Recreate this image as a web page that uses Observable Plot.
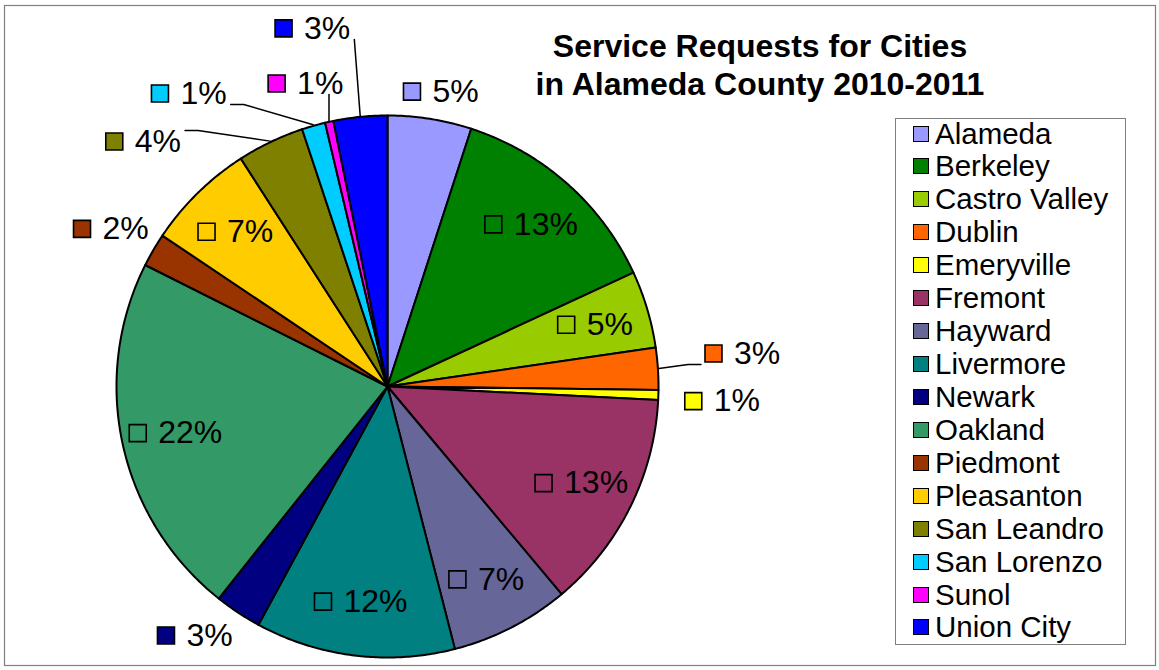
<!DOCTYPE html>
<html>
<head>
<meta charset="utf-8">
<script src="https://cdn.jsdelivr.net/npm/d3@7"></script>
<script src="https://cdn.jsdelivr.net/npm/@observablehq/plot@0.6"></script>
<style>
  body { margin: 0; background: #fff; }
  #wrap { position: relative; width: 1159px; height: 670px; font-family: "Liberation Sans", Arial, sans-serif; color: #000; }
  #chart { position: absolute; left: 0; top: 0; }
  #title { position: absolute; left: 460px; width: 600px; top: 27px; text-align: center; font-weight: bold; font-size: 32px; line-height: 38px; white-space: nowrap; }
  #legend { position: absolute; left: 895px; top: 118px; width: 231px; height: 527px; border: 1.5px solid #7f7f7f; box-sizing: border-box; }
  .row { position: absolute; left: 0; height: 32px; display: flex; align-items: center; white-space: nowrap; }
  .sw { position: absolute; left: 17px; width: 16px; height: 16px; border: 1.5px solid #000; box-sizing: border-box; }
  .lab { position: absolute; left: 39px; font-size: 29.5px; line-height: 32px; }
</style>
</head>
<body>
<div id="wrap">
  <div id="chart"></div>
  <div id="title"></div>
  <div id="legend"></div>
</div>
<script>
// ---- data ----
const cities = ["Alameda","Berkeley","Castro Valley","Dublin","Emeryville","Fremont","Hayward","Livermore","Newark","Oakland","Piedmont","Pleasanton","San Leandro","San Lorenzo","Sunol","Union City"];
const shares = [5.0,13.1,4.6,2.5,0.6,13.1,7.1,11.9,2.8,21.7,2.0,6.5,4.0,1.4,0.5,3.2];
const colors = ["#9999FF","#008000","#99CC00","#FF6600","#FFFF00","#993366","#666699","#008080","#000080","#339966","#993300","#FFCC00","#808000","#00CCFF","#FF00FF","#0000FF"];
const titleLines = ["Service Requests for Cities","in Alameda County 2010-2011"];
// outside label placement: [angle in degrees clockwise from 12 o'clock, distance in pie radii]
const outsideLabels = {"Alameda":[10.3,1.106],"Dublin":[84.7,1.316],"Emeryville":[92.5,1.237],"Newark":[217.7,1.161],"Piedmont":[299.7,1.174],"San Leandro":[315.1,1.276],"San Lorenzo":[325.9,1.306],"Sunol":[344.9,1.158],"Union City":[348.2,1.35]};
const leaderCities = ["Dublin","San Leandro","San Lorenzo","Sunol","Union City"];

// ---- layout ----
const W = 1159, H = 670, mL = 4, mR = 4, mT = 5, mB = 5;
const R = 271;            // pie radius in px (one data unit)
const CX = 387, CY = 386; // pie centre in px
const insideR = 0.8;
const labelFont = 32, sq = 17, gap = 12;
const FONT = "'Liberation Sans', Arial, sans-serif";

const pie = d3.pie().sort(null).value(d => d)(shares);
const slices = pie.map((p, i) => ({city: cities[i], value: shares[i], a0: p.startAngle, a1: p.endAngle}));

// slice outlines
const pts = [];
for (const s of slices) {
  pts.push({city: s.city, x: 0, y: 0});
  const n = Math.max(2, Math.ceil((s.a1 - s.a0) / (Math.PI / 360)));
  for (let k = 0; k <= n; k++) {
    const a = s.a0 + (s.a1 - s.a0) * k / n;
    pts.push({city: s.city, x: Math.sin(a), y: Math.cos(a)});
  }
  pts.push({city: s.city, x: 0, y: 0});
}

// labels
const ctx = document.createElement("canvas").getContext("2d");
ctx.font = `${labelFont}px ${FONT}`;
const toX = px => (px - CX) / R, toY = py => (CY - py) / R;
const labels = [], squares = [], leaders = [];
for (const s of slices) {
  const text = Math.round(s.value) + "%";
  const mid = (s.a0 + s.a1) / 2;
  let ang = mid, dist = insideR;
  if (outsideLabels[s.city]) { ang = outsideLabels[s.city][0] * Math.PI / 180; dist = outsideLabels[s.city][1]; }
  const ax = CX + Math.sin(ang) * dist * R, ay = CY - Math.cos(ang) * dist * R;
  const tw = ctx.measureText(text).width;
  const gw = sq + gap + tw;
  const left = ax - gw / 2;
  squares.push({city: s.city, x: toX(left + sq / 2), y: toY(ay)});
  labels.push({city: s.city, text, x: toX(left + sq + gap), y: toY(ay)});
  if (leaderCities.includes(s.city)) {
    const ex = CX + Math.sin(mid) * (R + 1), ey = CY - Math.cos(mid) * (R + 1);
    const L = left - 4, Rr = left + gw + 4;
    const yA = ey > ay ? ay + 11 : ay - 11;
    let path;
    if (ex >= L && ex <= Rr) path = [[ex, yA], [ex, ey]];
    else {
      const side = ex > Rr ? Rr : L;
      const sgn = ex > Rr ? 1 : -1;
      if (Math.abs(ex - side) > 20) path = [[side, yA], [side + sgn * 13, yA], [ex, ey]];
      else path = [[side, yA], [ex, ey]];
    }
    for (const [px, py] of path) leaders.push({city: s.city, x: toX(px), y: toY(py)});
  }
}

const plot = Plot.plot({
  width: W, height: H,
  marginLeft: mL, marginRight: mR, marginTop: mT, marginBottom: mB,
  x: {domain: [-(CX - mL) / R, (W - mR - CX) / R], axis: null},
  y: {domain: [-(H - mB - CY) / R, (CY - mT) / R], axis: null},
  color: {type: "ordinal", domain: cities, range: colors},
  style: {background: "transparent", overflow: "visible"},
  marks: [
    Plot.frame({stroke: "#7f7f7f", strokeWidth: 1.2}),
    Plot.line(pts, {x: "x", y: "y", z: "city", fill: "city", stroke: "#000", strokeWidth: 2, strokeLinejoin: "round", curve: "linear"}),
    Plot.line(leaders, {x: "x", y: "y", z: "city", stroke: "#000", strokeWidth: 1.5, curve: "linear"}),
    Plot.dot(squares, {x: "x", y: "y", symbol: "square", r: sq / Math.sqrt(Math.PI), fill: "city", stroke: "#000", strokeWidth: 1.6}),
    Plot.text(labels, {x: "x", y: "y", text: "text", textAnchor: "start", lineAnchor: "middle", fontSize: labelFont, fontFamily: FONT, fill: "#000"})
  ]
});
document.getElementById("chart").appendChild(plot);

// title
document.getElementById("title").innerHTML = titleLines.map(t => `<div>${t}</div>`).join("");

// legend
const leg = document.getElementById("legend");
const step = 32.93;
cities.forEach((c, i) => {
  const row = document.createElement("div");
  row.className = "row";
  row.style.top = (16 - 1.5 + i * step - 16) + "px";
  row.style.width = "100%";
  const sw = document.createElement("div");
  sw.className = "sw";
  sw.style.background = colors[i];
  const lab = document.createElement("div");
  lab.className = "lab";
  lab.textContent = c;
  row.appendChild(sw); row.appendChild(lab);
  leg.appendChild(row);
});
</script>
</body>
</html>
